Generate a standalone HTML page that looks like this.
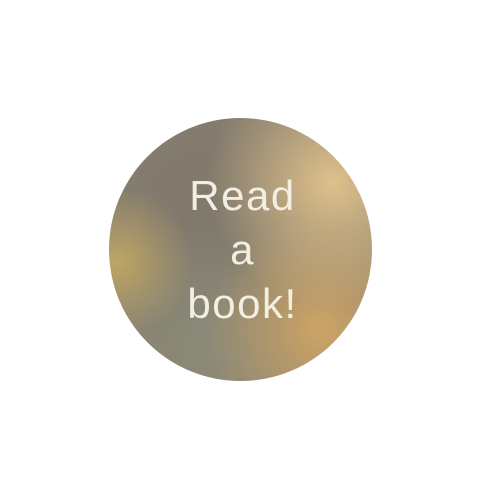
<!DOCTYPE html>
<html>
<head>
<meta charset="utf-8">
<style>
html,body{margin:0;padding:0;background:#fff;width:499px;height:499px;overflow:hidden;}
#badge{position:absolute;left:109px;top:118px;width:263px;height:263px;border-radius:50%;
background:
radial-gradient(circle at 85% 25%, rgba(228,196,140,0.95) 0%, rgba(228,196,140,0) 42%),
radial-gradient(circle at 80% 80%, rgba(214,168,100,0.9) 0%, rgba(214,168,100,0) 38%),
radial-gradient(circle at 3% 55%, rgba(196,170,100,0.9) 0%, rgba(196,170,100,0) 26%),
radial-gradient(circle at 40% 85%, rgba(140,140,122,0.9) 0%, rgba(140,140,122,0) 45%),
radial-gradient(circle at 40% 40%, #7f786c 0%, #857d6e 55%, #9a8c72 100%);
}
#label{position:absolute;left:111px;top:118px;width:263px;height:263px;display:flex;align-items:center;justify-content:center;text-align:center;
font-family:"Liberation Sans",sans-serif;font-size:42px;letter-spacing:1.5px;line-height:54px;color:#f3eee2;}
</style>
</head>
<body>
<div id="badge"></div>
<div id="label"><div>Read<br>a<br>book!</div></div>
</body>
</html>
